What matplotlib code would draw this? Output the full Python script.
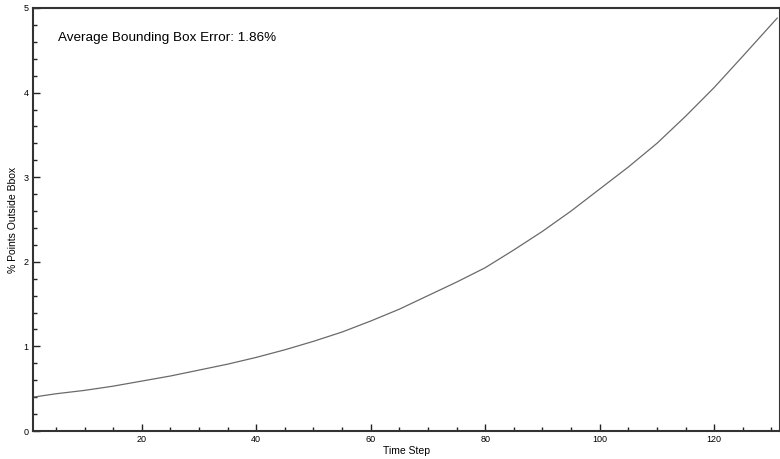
import numpy as np
import matplotlib
matplotlib.use('Agg')
import matplotlib.pyplot as plt
from matplotlib.ticker import MultipleLocator

plt.rcParams['font.family'] = ['Liberation Sans', 'DejaVu Sans']

# values
steps = [1, 5, 10, 15, 20, 25, 30, 35, 40, 45, 50, 55, 60, 65, 70, 75, 80,
         85, 90, 95, 100, 105, 110, 115, 120, 125, 131]
pct_outside = [0.40, 0.44, 0.48, 0.53, 0.59, 0.65, 0.72, 0.79, 0.87, 0.96,
               1.06, 1.17, 1.30, 1.44, 1.60, 1.76, 1.93, 2.14, 2.36, 2.60,
               2.86, 3.12, 3.40, 3.72, 4.06, 4.43, 4.88]
avg_err = 1.86

fig = plt.figure(figsize=(7.8, 4.59), dpi=100)
ax = fig.add_axes([0.0423, 0.061, 0.9577, 0.9216])

ax.plot(steps, pct_outside, color='#6a6a6a', lw=0.9)

ax.set_xlim(1, 131.5)
ax.set_ylim(0, 5)
ax.xaxis.set_major_locator(MultipleLocator(20))
ax.xaxis.set_minor_locator(MultipleLocator(5))
ax.yaxis.set_major_locator(MultipleLocator(1))
ax.yaxis.set_minor_locator(MultipleLocator(0.2))
ax.tick_params(which='both', direction='in', width=1, labelsize=6.5, color='#222222')
ax.tick_params(which='major', length=5, pad=3)
ax.tick_params(which='minor', length=3)
for s in ax.spines.values():
    s.set_linewidth(1.5)
    s.set_color('#333333')

ax.set_xlabel('Time Step', fontsize=7.5, labelpad=1)
ax.set_ylabel('% Points Outside Bbox', fontsize=7.5, labelpad=4)

ax.text(0.034, 0.93, 'Average Bounding Box Error: {:.2f}%'.format(avg_err),
        transform=ax.transAxes, fontsize=9.7, va='center', ha='left')

fig.savefig('out.png', dpi=100)
